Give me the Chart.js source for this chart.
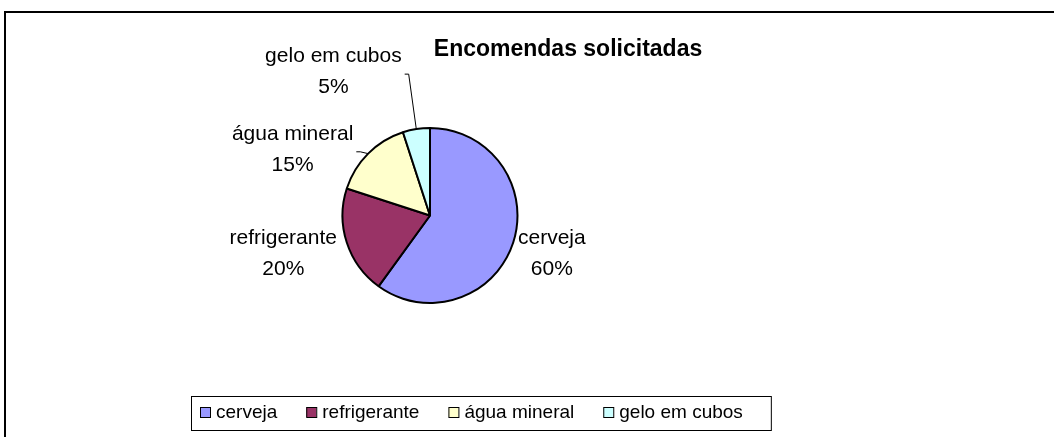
<!DOCTYPE html>
<html>
<head>
<meta charset="utf-8">
<script src="https://cdn.jsdelivr.net/npm/chart.js@4/dist/chart.umd.min.js"></script>
<style>
  html, body { margin: 0; padding: 0; background: #fff; }
  #wrap { position: relative; width: 1054px; height: 437px; }
</style>
</head>
<body>
<div id="wrap"><canvas id="chart-pie-orders" width="1054" height="437"></canvas></div>
<script>
const categories = ['cerveja', 'refrigerante', 'água mineral', 'gelo em cubos'];
const shares = [60, 20, 15, 5];
const sliceColors = ['#9999FF', '#993366', '#FFFFCC', '#CCFFFF'];
const chartTitle = 'Encomendas solicitadas';

const FONT = 'Arial, "Liberation Sans", sans-serif';

// frame, title, outside labels and legend box, drawn around the pie
const excelLook = {
    id: 'excelLook',
    beforeDraw(chart) {
        const ctx = chart.ctx;
        ctx.save();
        ctx.strokeStyle = '#000';
        ctx.lineWidth = 2;
        ctx.strokeRect(5, 12, 1200, 600);
        ctx.restore();
    },
    afterDatasetsDraw(chart, args, opts) {
        const ctx = chart.ctx;
        const meta = chart.getDatasetMeta(0);
        ctx.save();

        // title
        ctx.fillStyle = '#000';
        ctx.font = 'bold 23px ' + FONT;
        ctx.textAlign = 'center';
        ctx.textBaseline = 'alphabetic';
        ctx.fillText(chartTitle, 568, 56);

        // data labels
        ctx.font = '21px ' + FONT;
        meta.data.forEach((arc, i) => {
            const p = arc.getProps(['x', 'y', 'startAngle', 'endAngle', 'outerRadius'], true);
            const mid = (p.startAngle + p.endAngle) / 2;
            const c = Math.cos(mid), s = Math.sin(mid);
            const ax = p.x + (p.outerRadius + 4) * c;
            const ay = p.y + (p.outerRadius + 4) * s;
            const shift = opts.shift[i];
            const lines = [categories[i], shares[i] + '%'];
            const w = Math.max(...lines.map(t => ctx.measureText(t).width));
            let left;
            if (c >= 0) left = ax + shift.dx;
            else left = ax + shift.dx - w;
            const cx = left + w / 2;
            const base = ay + shift.dy;
            ctx.textAlign = 'center';
            lines.forEach((t, k) => ctx.fillText(t, cx, base + k * 31));

            if (shift.leader) {
                const right = left + w;
                ctx.beginPath();
                ctx.lineWidth = 1;
                ctx.strokeStyle = '#000';
                ctx.moveTo(p.x + p.outerRadius * c, p.y + p.outerRadius * s);
                ctx.lineTo(right + 7, base + 12);
                ctx.lineTo(right + 3, base + 12);
                ctx.stroke();
            }
        });

        // legend
        const lg = opts.legend;
        ctx.font = '19px ' + FONT;
        ctx.textAlign = 'left';
        ctx.textBaseline = 'middle';
        let x = lg.left + 9;
        categories.forEach((name, i) => {
            ctx.fillStyle = sliceColors[i];
            ctx.fillRect(x, lg.mid - 5, 10, 10);
            ctx.lineWidth = 1;
            ctx.strokeStyle = '#000';
            ctx.strokeRect(x + 0.5, lg.mid - 4.5, 10, 10);
            ctx.fillStyle = '#000';
            ctx.fillText(name, x + 16, lg.mid + 1);
            x += 16 + ctx.measureText(name).width + (i < categories.length - 1 ? 29 : 28);
        });
        ctx.lineWidth = 1;
        ctx.strokeStyle = '#000';
        ctx.strokeRect(lg.left + 0.5, lg.top + 0.5, x - lg.left, lg.bottom - lg.top);
        ctx.restore();
    }
};

new Chart(document.getElementById('chart-pie-orders').getContext('2d'), {
    type: 'pie',
    data: {
        labels: categories,
        datasets: [{
            data: shares,
            backgroundColor: sliceColors,
            borderColor: '#000',
            borderWidth: 2,
            radius: 87.5
        }]
    },
    options: {
        responsive: false,
        animation: false,
        events: [],
        layout: { padding: { left: 0, right: 194, top: 0, bottom: 6 } },
        plugins: {
            legend: { display: false },
            title: { display: false },
            tooltip: { enabled: false },
            excelLook: {
                shift: [
                    { dx: 1, dy: 0 },
                    { dx: -6, dy: 0 },
                    { dx: -12, dy: -11, leader: true },
                    { dx: -14, dy: -63, leader: true }
                ],
                legend: { left: 191, top: 396, bottom: 430, mid: 412 }
            }
        }
    },
    plugins: [excelLook]
});
</script>
</body>
</html>
